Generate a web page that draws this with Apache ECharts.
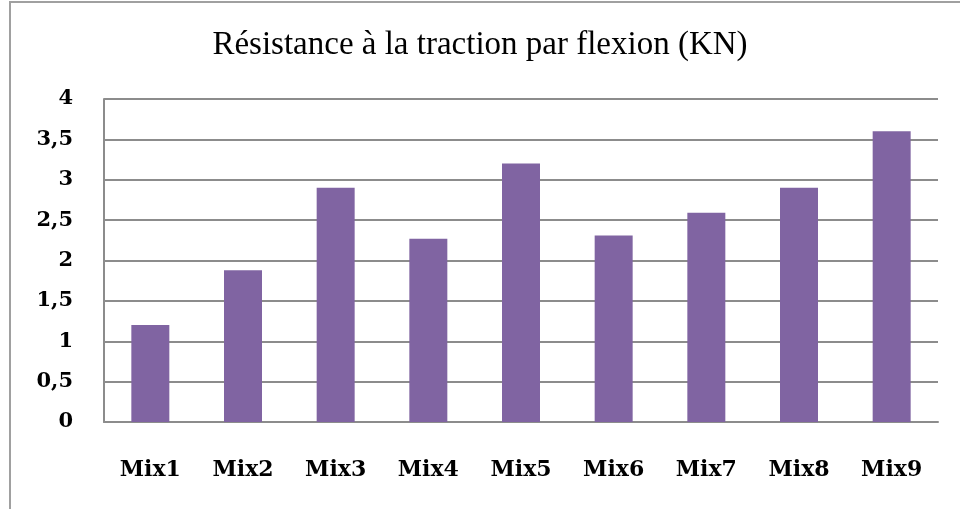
<!DOCTYPE html>
<html>
<head>
<meta charset="utf-8">
<script src="https://cdn.jsdelivr.net/npm/echarts@6/dist/echarts.min.js"></script>
<style>
  html, body { margin: 0; padding: 0; background: #fff; }
  #chart { width: 960px; height: 509px; }
</style>
</head>
<body>
<div id="chart"></div>
<script>
// données du graphique
const categories = ['Mix1', 'Mix2', 'Mix3', 'Mix4', 'Mix5', 'Mix6', 'Mix7', 'Mix8', 'Mix9'];
const values = [1.2, 1.88, 2.9, 2.27, 3.2, 2.31, 2.59, 2.9, 3.6];

const labelFont = "'DejaVu Serif', serif";

const chart = echarts.init(document.getElementById('chart'));

const option = {
  animation: false,
  title: {
    text: 'Résistance à la traction par flexion (KN)',
    left: 'center',
    top: 24,
    textStyle: {
      fontFamily: "'Liberation Serif', serif",
      fontWeight: 'normal',
      fontSize: 33,
      color: '#000'
    }
  },
  // cadre extérieur
  graphic: [{
    type: 'rect',
    shape: { x: 10, y: 2, width: 1000, height: 600 },
    style: { fill: 'none', stroke: '#a0a0a0', lineWidth: 2 },
    silent: true
  }],
  grid: {
    left: 104,
    right: 22,
    top: 99,
    bottom: 87
  },
  xAxis: {
    type: 'category',
    data: categories,
    axisLine: { show: true, lineStyle: { color: '#8c8c8c', width: 2 } },
    axisTick: { show: false },
    axisLabel: {
      margin: 37,
      fontFamily: labelFont,
      fontWeight: 'bold',
      fontSize: 22,
      color: '#000'
    }
  },
  yAxis: {
    type: 'value',
    min: 0,
    max: 4,
    interval: 0.5,
    axisLine: { show: true, lineStyle: { color: '#8c8c8c', width: 2 } },
    axisTick: { show: false },
    splitLine: { lineStyle: { color: '#8c8c8c', width: 2 } },
    axisLabel: {
      margin: 31,
      fontFamily: labelFont,
      fontWeight: 'bold',
      fontSize: 21,
      color: '#000',
      formatter: function (v) {
        return String(v).replace('.', ',');
      }
    }
  },
  series: [{
    type: 'bar',
    data: values,
    barWidth: '41%',
    itemStyle: { color: '#8064A2' }
  }]
};

chart.setOption(option);
</script>
</body>
</html>
